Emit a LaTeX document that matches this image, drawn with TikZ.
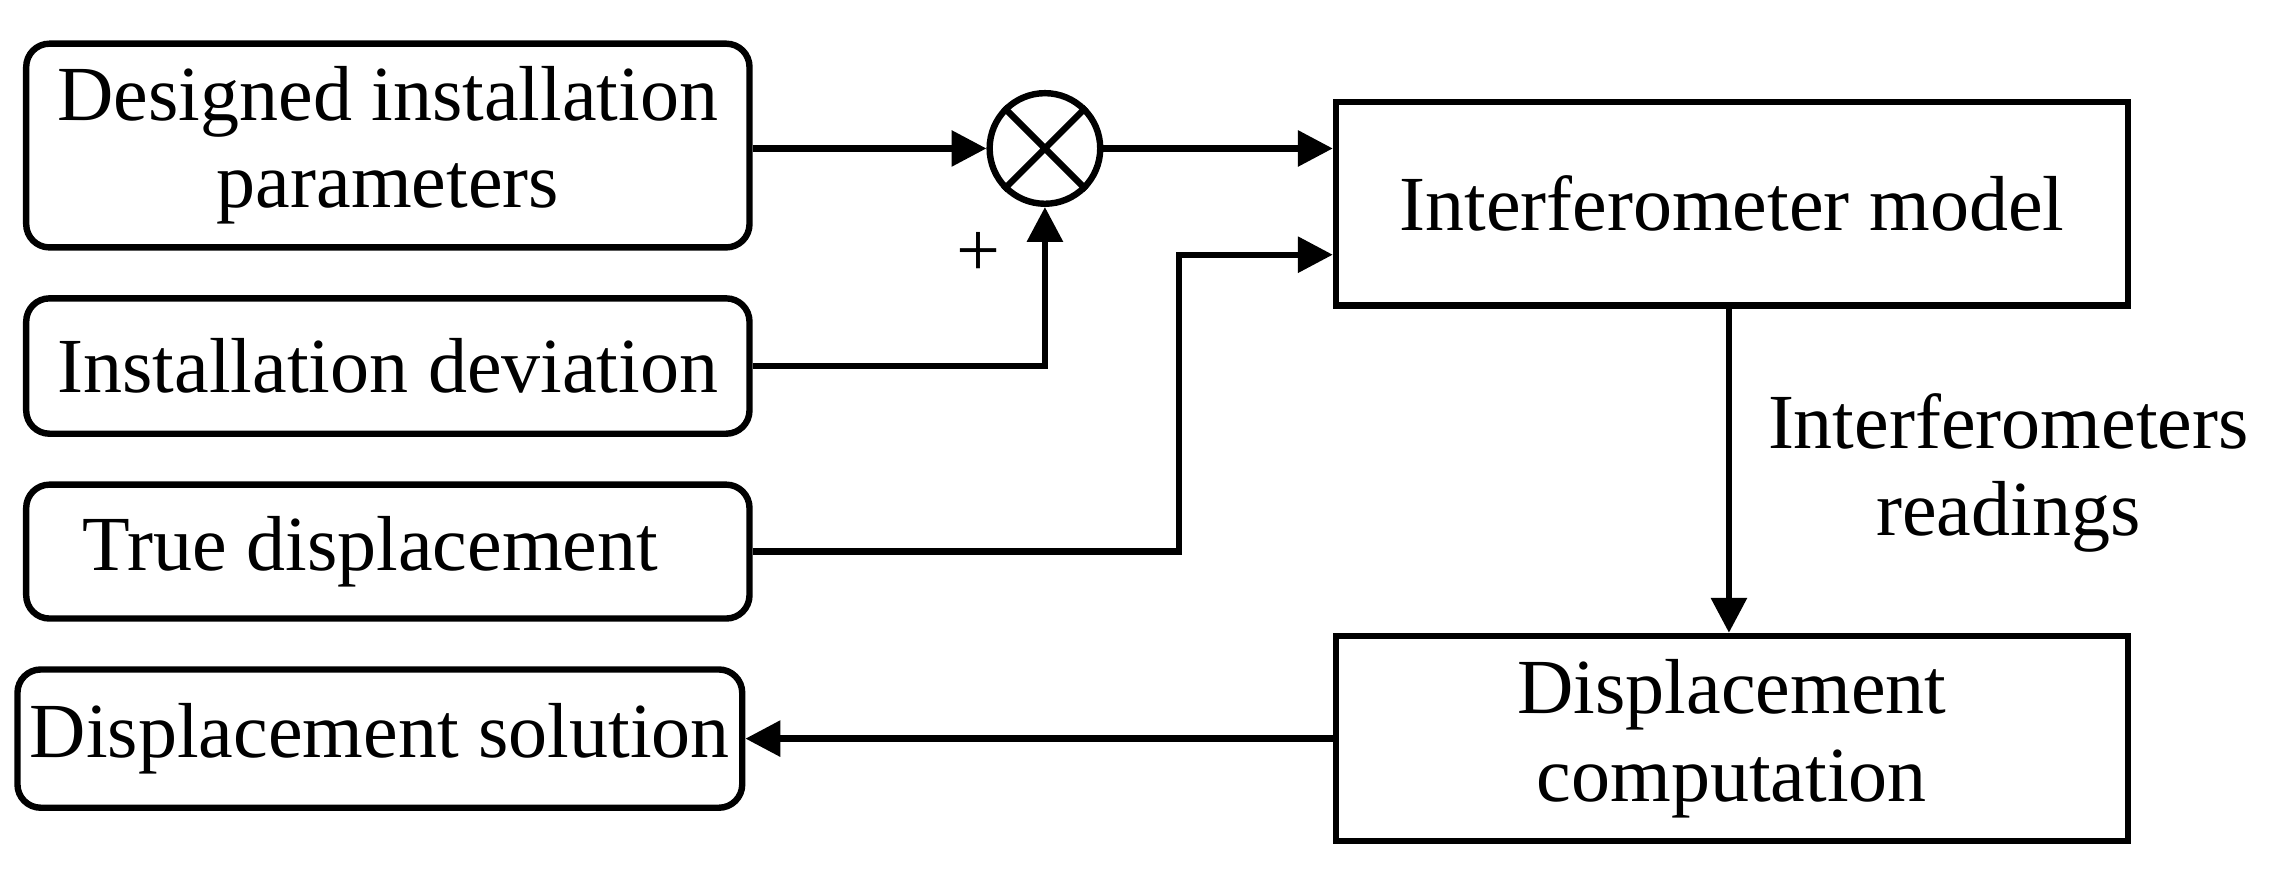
\documentclass[tikz,border=0pt]{standalone}
\usepackage{fontspec}
\setmainfont{Liberation Serif}
\usetikzlibrary{arrows.meta}
\begin{document}
\begin{tikzpicture}[x=0.25pt,y=-0.25pt,
  font=\fontsize{13.4}{15}\selectfont,
  rb/.style={draw,line width=1.1pt,rounded corners=4pt,align=center,inner sep=0pt},
  sb/.style={draw,line width=1.1pt,align=center},
  ar/.style={line width=1.1pt,-{Triangle[length=6pt,width=6pt]}}]
\useasboundingbox (0,0) rectangle (1568,614);
\node[rb,minimum width=124.25pt,minimum height=35pt] (dp) at (266.5,100) {Designed installation\\parameters};
\node[rb,minimum width=124.25pt,minimum height=23.25pt] (dev) at (266.5,251.5) {Installation deviation};
\node[rb,minimum width=124.25pt,minimum height=23pt] (td) at (266.5,379) {\hspace*{-6pt}True displacement};
\node[rb,minimum width=124.5pt,minimum height=23.75pt] (sol) at (261,507.5) {Displacement solution};
\node[draw,circle,line width=1.1pt,minimum size=19pt,inner sep=0pt] (c) at (718,102) {};
\draw[line width=1.1pt] (c.north west)--(c.south east) (c.north east)--(c.south west);
\node[sb,minimum width=136pt,minimum height=35pt] (im) at (1190,140) {Interferometer model};
\node[sb,minimum width=136pt,minimum height=35.25pt] (dc) at (1190,507.5) {Displacement\\computation};
\node at (672,175) {+};
\node[align=center] at (1380,325) {Interferometers\\readings};
\draw[ar] (dp.east |- c) -- (c.west);
\draw[ar] (c.east) -- (im.west |- c);
\draw[ar] (dev.east) -| (c.south);
\coordinate (k) at (810,175);
\draw[ar] (td.east) -| (k) -- (im.west |- k);
\draw[ar] (im.south -| 1188,0) -- (dc.north -| 1188,0);
\draw[ar] (dc.west) -- (sol.east);
\end{tikzpicture}
\end{document}
